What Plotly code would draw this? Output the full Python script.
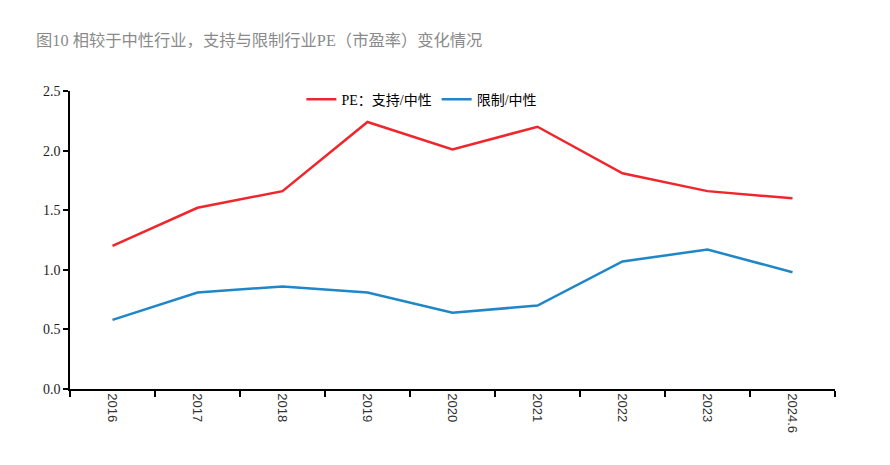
import plotly.graph_objects as go

categories = ["2016", "2017", "2018", "2019", "2020", "2021", "2022", "2023", "2024.6"]
support_vs_neutral = [1.20, 1.52, 1.66, 2.24, 2.01, 2.20, 1.81, 1.66, 1.60]
restrict_vs_neutral = [0.58, 0.81, 0.86, 0.81, 0.64, 0.70, 1.07, 1.17, 0.98]
y_ticks = [0.0, 0.5, 1.0, 1.5, 2.0, 2.5]
y_tick_labels = ["0.0", "0.5", "1.0", "1.5", "2.0", "2.5"]

title_text = "图10 相较于中性行业，支持与限制行业PE（市盈率）变化情况"

fig = go.Figure()
fig.add_trace(go.Scatter(x=categories, y=support_vs_neutral, mode="lines",
                         name="PE：支持/中性", line=dict(color="#f0262d", width=2.5)))
fig.add_trace(go.Scatter(x=categories, y=restrict_vs_neutral, mode="lines",
                         name="限制/中性", line=dict(color="#1f86c8", width=2.5)))

fig.update_layout(
    width=882, height=457,
    margin=dict(l=62, r=55, t=83, b=76),
    paper_bgcolor="white", plot_bgcolor="white",
    showlegend=True,
    legend=dict(orientation="h", x=0.46, xanchor="center", y=1.025, yanchor="top",
                font=dict(family="Liberation Serif, Noto Sans CJK SC", size=14, color="#000"),
                bgcolor="rgba(0,0,0,0)", itemwidth=30, tracegroupgap=0),
    annotations=[dict(text=title_text, xref="paper", yref="paper", x=-0.047, y=1.0,
                      xanchor="left", yanchor="middle", yshift=51, showarrow=False,
                      font=dict(family="Liberation Serif, Noto Sans CJK SC", size=16.3, color="#8a8a8a"))],
)
fig.update_xaxes(
    type="category", range=[-0.5, 8.5], showline=True, linecolor="#000", linewidth=1.5,
    ticks="outside", tickson="boundaries", ticklen=6, tickcolor="#000", tickwidth=1.5,
    tickangle=90, showgrid=False, zeroline=False,
    tickfont=dict(family="Liberation Sans", size=13, color="#333"),
)
fig.update_yaxes(
    range=[0, 2.5], tickvals=y_ticks, ticktext=y_tick_labels,
    showline=True, linecolor="#000", linewidth=1.5,
    ticks="outside", ticklen=5, tickcolor="#000", tickwidth=1.5,
    showgrid=False, zeroline=False,
    tickfont=dict(family="Liberation Serif", size=14, color="#222"),
)

fig.write_html("out.html")
